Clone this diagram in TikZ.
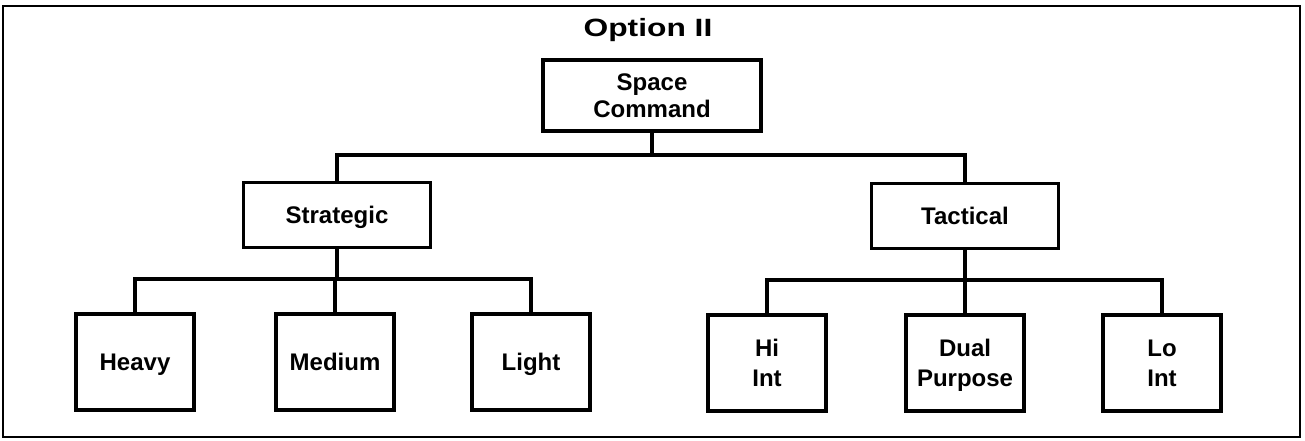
\documentclass[tikz,border=0pt]{standalone}
\usepackage{fontspec}
\setmainfont{Liberation Sans}
\newcommand{\lbl}[1]{\rule{0pt}{17.2pt}\smash{#1}}
\begin{document}
\begin{tikzpicture}[x=1pt,y=-1pt,
  box/.style={draw=black,line width=3.2pt,inner sep=0pt,align=center,
    font=\fontsize{24}{29.5}\selectfont\bfseries},
  topbox/.style={box,minimum width=218pt,minimum height=71pt,
    font=\fontsize{24}{27}\selectfont\bfseries},
  midbox/.style={box,minimum width=187pt,minimum height=65pt},
  leafbox/.style={box,minimum width=118pt,minimum height=96pt},
  conn/.style={line width=3.6pt,line cap=rect}
]
\useasboundingbox (0,0) rectangle (1305,440);
\draw[line width=2pt] (3,6) rectangle (1300,437);
\node[font=\fontsize{25}{30}\selectfont\bfseries] (title) at (648,30) {\scalebox{1.27}[1]{Option II}};
\node[topbox] (sc) at (652,95.5) {\lbl{Space}\\\lbl{Command}};
\node[midbox] (strat) at (337,215) {\lbl{Strategic}};
\node[midbox] (tact) at (965,216) {\lbl{Tactical}};
\node[leafbox] (heavy) at (135,362) {\lbl{Heavy}};
\node[leafbox] (medium) at (335,362) {\lbl{Medium}};
\node[leafbox] (light) at (531,362) {\lbl{Light}};
\node[leafbox] (hiint) at (767,363) {\lbl{Hi}\\\lbl{Int}};
\node[leafbox] (dual) at (965,363) {\lbl{Dual}\\\lbl{Purpose}};
\node[leafbox] (loint) at (1162,363) {\lbl{Lo}\\\lbl{Int}};
\coordinate (b1) at (652,155);
\coordinate (b2) at (337,279);
\coordinate (b3) at (965,280);
\draw[conn] (sc.south) -- (b1);
\draw[conn] (strat.north) |- (b1) -| (tact.north);
\draw[conn] (strat.south) -- (b2);
\draw[conn] (heavy.north) |- (b2) -| (light.north);
\draw[conn] (medium.north) -- (medium.north |- b2);
\draw[conn] (tact.south) -- (b3);
\draw[conn] (hiint.north) |- (b3) -| (loint.north);
\draw[conn] (dual.north) -- (dual.north |- b3);
\end{tikzpicture}
\end{document}
